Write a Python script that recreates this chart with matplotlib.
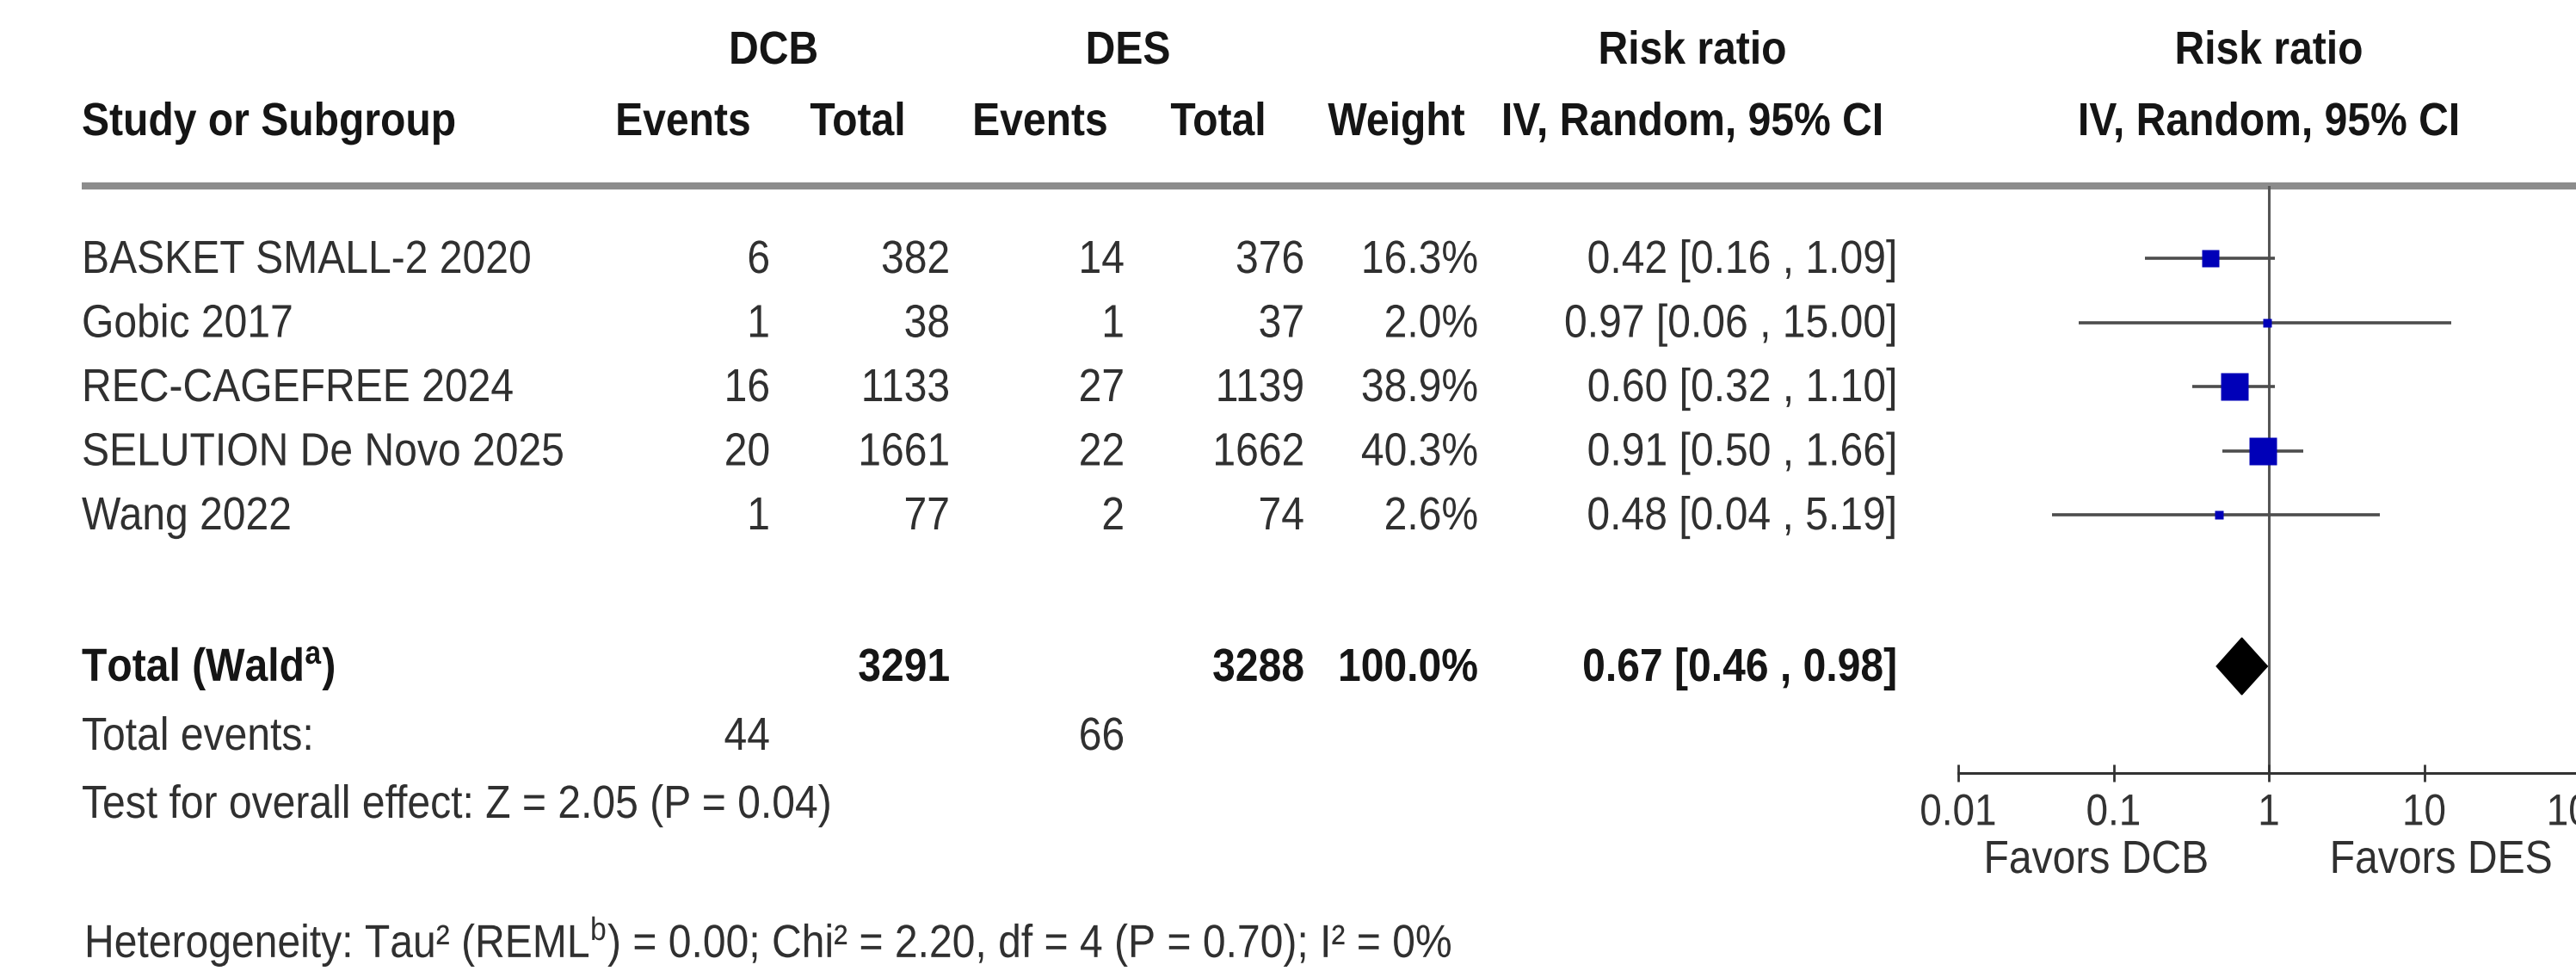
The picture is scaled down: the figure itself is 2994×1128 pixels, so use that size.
import numpy as np
import matplotlib
matplotlib.use('Agg')
import matplotlib.pyplot as plt
from matplotlib.patheffects import AbstractPathEffect
from matplotlib.transforms import Affine2D

plt.rcParams['font.family'] = ['Liberation Sans', 'DejaVu Sans']
plt.rcParams['mathtext.fontset'] = 'custom'
plt.rcParams['mathtext.rm'] = 'Liberation Sans'
plt.rcParams['mathtext.it'] = 'Liberation Sans:italic'
plt.rcParams['mathtext.bf'] = 'Liberation Sans:bold'

# data
studies = ['BASKET SMALL-2 2020', 'Gobic 2017', 'REC-CAGEFREE 2024',
           'SELUTION De Novo 2025', 'Wang 2022']
dcb_events = [6, 1, 16, 20, 1]
dcb_total = [382, 38, 1133, 1661, 77]
des_events = [14, 1, 27, 22, 2]
des_total = [376, 37, 1139, 1662, 74]
weights = [16.3, 2.0, 38.9, 40.3, 2.6]
rr = [0.42, 0.97, 0.60, 0.91, 0.48]
rr_lo = [0.16, 0.06, 0.32, 0.50, 0.04]
rr_hi = [1.09, 15.00, 1.10, 1.66, 5.19]
total_rr, total_lo, total_hi = 0.67, 0.46, 0.98
total_weight = 100.0
ticks = [0.01, 0.1, 1, 10, 100]
tick_labels = ['0.01', '0.1', '1', '10', '100']
overall_text = 'Test for overall effect: Z = 2.05 (P = 0.04)'
het_text = ('Heterogeneity: Tau\u00b2 (REML$^{\\mathrm{b}}$) = 0.00; '
            'Chi\u00b2 = 2.20, df = 4 (P = 0.70); I\u00b2 = 0%')

W, H = 2994, 1128
FS = 34.6
REG = '#303030'
BLD = '#151515'


class TallText(AbstractPathEffect):
    # stretch glyphs vertically about their baseline (the source image is a bit tall)
    def __init__(self, sy):
        super().__init__()
        self.sy = sy

    def draw_path(self, renderer, gc, tpath, affine, rgbFace=None):
        x, y = affine.transform((0, 0))
        tr = affine + Affine2D().translate(-x, -y).scale(1, self.sy).translate(x, y)
        renderer.draw_path(gc, tpath, tr, rgbFace)


TALL = [TallText(1.12)]

fig = plt.figure(figsize=(W / 100, H / 100), dpi=100)
ax = fig.add_axes([0, 0, 1, 1])
ax.set_xlim(0, W)
ax.set_ylim(H, 0)
ax.axis('off')


def put(x, y, s, ha='left', bold=False, size=FS):
    ax.text(x, y + 17, s, ha=ha, va='baseline', fontsize=size,
            fontweight='bold' if bold else 'normal',
            color=BLD if bold else REG, path_effects=TALL)


# header
put(899, 57, 'DCB', 'center', True)
put(1311, 57, 'DES', 'center', True)
put(1967, 57, 'Risk ratio', 'center', True)
put(2637, 57, 'Risk ratio', 'center', True)
put(95, 140, 'Study or Subgroup', bold=True)
put(794, 140, 'Events', 'center', True)
put(997, 140, 'Total', 'center', True)
put(1209, 140, 'Events', 'center', True)
put(1416, 140, 'Total', 'center', True)
put(1623, 140, 'Weight', 'center', True)
put(1967, 140, 'IV, Random, 95% CI', 'center', True)
put(2637, 140, 'IV, Random, 95% CI', 'center', True)
ax.plot([95, W], [216, 216], color='#8c8c8c', lw=6, solid_capstyle='butt')

cols = [895, 1104, 1307, 1516, 1718, 2205]
row_y = [300 + 74.5 * i for i in range(len(studies))]
for i, name in enumerate(studies):
    y = row_y[i]
    put(95, y, name)
    put(cols[0], y, str(dcb_events[i]), 'right')
    put(cols[1], y, str(dcb_total[i]), 'right')
    put(cols[2], y, str(des_events[i]), 'right')
    put(cols[3], y, str(des_total[i]), 'right')
    put(cols[4], y, f'{weights[i]:.1f}%', 'right')
    put(cols[5], y, f'{rr[i]:.2f} [{rr_lo[i]:.2f} , {rr_hi[i]:.2f}]', 'right')

# totals
ty = 774
put(95, ty, 'Total (Wald$^{\\mathbf{a}}$)', bold=True)
put(cols[1], ty, str(sum(dcb_total)), 'right', True)
put(cols[3], ty, str(sum(des_total)), 'right', True)
put(cols[4], ty, f'{total_weight:.1f}%', 'right', True)
put(cols[5], ty, f'{total_rr:.2f} [{total_lo:.2f} , {total_hi:.2f}]', 'right', True)
put(95, 854, 'Total events:')
put(cols[0], 854, str(sum(dcb_events)), 'right')
put(cols[2], 854, str(sum(des_events)), 'right')
put(95, 933, overall_text)
put(98, 1095, het_text)

# forest panel
x0, dec, axis_y, top_y = 2276, 180.5, 898, 216
ax2 = fig.add_axes([x0 / W, (H - axis_y) / H, 4 * dec / W, (axis_y - top_y) / H])
ax2.patch.set_alpha(0)
ax2.set_xscale('log')
ax2.set_xlim(ticks[0], ticks[-1])
ax2.set_ylim(axis_y, top_y)
for s in ['top', 'left', 'right']:
    ax2.spines[s].set_visible(False)
ax2.spines['bottom'].set_color('#333333')
ax2.spines['bottom'].set_linewidth(2.2)
ax2.set_yticks([])
ax2.set_xticks(ticks)
ax2.set_xticklabels(tick_labels)
ax2.minorticks_off()
ax2.tick_params(axis='x', direction='inout', length=14, width=2,
                pad=12, labelsize=33, colors='#333333')
for lab in ax2.get_xticklabels():
    lab.set_path_effects(TALL)
ax2.axvline(1, color='#555555', lw=2.2, zorder=1)
ax2.hlines(row_y, rr_lo, rr_hi, color='#4d4d4d', lw=2.6, zorder=2)
for i in range(len(studies)):
    side = max(10, 5.0 * np.sqrt(weights[i])) * 0.72
    ax2.plot(rr[i], row_y[i], 's', ms=side, color='#0000b8', mec='none', zorder=3)
ax2.fill([total_lo, total_rr, total_hi, total_rr], [ty, ty - 33, ty, ty + 33],
         color='black', zorder=3)

ax.text(2436, 1014, 'Favors DCB', ha='center', va='baseline', fontsize=FS,
        color=REG, path_effects=TALL)
ax.text(2837, 1014, 'Favors DES', ha='center', va='baseline', fontsize=FS,
        color=REG, path_effects=TALL)

fig.savefig('out.png', dpi=100)
